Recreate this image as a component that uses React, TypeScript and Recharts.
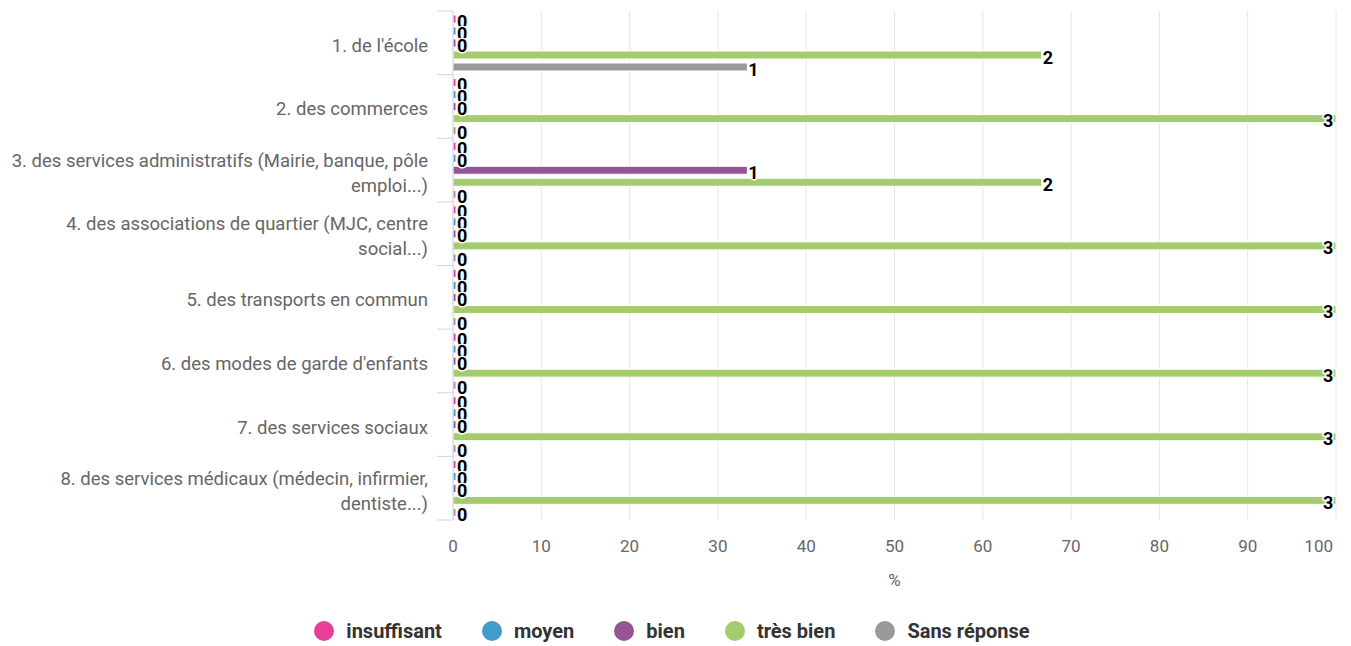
import {
  BarChart, Bar, XAxis, YAxis, CartesianGrid, LabelList, Legend,
} from 'recharts'

const categories = [
  "1. de l'école",
  '2. des commerces',
  '3. des services administratifs (Mairie, banque, pôle emploi...)',
  '4. des associations de quartier (MJC, centre social...)',
  '5. des transports en commun',
  "6. des modes de garde d'enfants",
  '7. des services sociaux',
  '8. des services médicaux (médecin, infirmier, dentiste...)',
]

// answer counts per category (3 respondents)
const insuffisant = [0, 0, 0, 0, 0, 0, 0, 0]
const moyen = [0, 0, 0, 0, 0, 0, 0, 0]
const bien = [0, 0, 1, 0, 0, 0, 0, 0]
const tresBien = [2, 3, 2, 3, 3, 3, 3, 3]
const sansReponse = [1, 0, 0, 0, 0, 0, 0, 0]
const respondents = 3

const xTicks = [0, 10, 20, 30, 40, 50, 60, 70, 80, 90, 100]

const series = [
  { key: 'insuffisant', name: 'insuffisant', color: '#e83e97', counts: insuffisant },
  { key: 'moyen', name: 'moyen', color: '#409cc9', counts: moyen },
  { key: 'bien', name: 'bien', color: '#945596', counts: bien },
  { key: 'tresBien', name: 'très bien', color: '#a4cc6f', counts: tresBien },
  { key: 'sansReponse', name: 'Sans réponse', color: '#999999', counts: sansReponse },
]

const data = categories.map((name, i) => {
  const row: any = { name }
  series.forEach((s) => {
    row[s.key] = (s.counts[i] / respondents) * 100
    row[s.key + '_n'] = s.counts[i]
  })
  return row
})

const W = 1351
const H = 646
const MARGIN = { top: 11, right: 15, bottom: 0, left: 0 }
const PLOT_RIGHT = W - MARGIN.right
const PLOT_H = 509
const BAND = PLOT_H / categories.length
const FONT = 'Roboto, sans-serif'
const Y_FONT_SIZE = 18.5

// word wrap for the long category names
let ctx: CanvasRenderingContext2D | null = null
function wrapLabel(label: string, maxWidth: number): string[] {
  if (!ctx) ctx = document.createElement('canvas').getContext('2d')
  const measure = (s: string) => {
    if (!ctx) return s.length * Y_FONT_SIZE * 0.5
    ctx.font = `${Y_FONT_SIZE}px Roboto`
    return ctx.measureText(s).width
  }
  const words = label.split(' ')
  const lines: string[] = []
  let cur = ''
  words.forEach((w) => {
    const next = cur ? cur + ' ' + w : w
    if (cur && measure(next) > maxWidth) {
      lines.push(cur)
      cur = w
    } else {
      cur = next
    }
  })
  if (cur) lines.push(cur)
  return lines
}

const YTick = (props: any) => {
  const { x, y, payload } = props
  const idx = categories.indexOf(payload.value)
  const half = BAND / 2
  const lines = wrapLabel(String(payload.value), 428)
  const lh = 25
  const first = y + 3 - ((lines.length - 1) * lh) / 2
  return (
    <g>
      <line x1={x - 16} x2={x} y1={y - half} y2={y - half} stroke="#ccd6eb" />
      {idx === categories.length - 1 && (
        <line x1={x - 16} x2={x} y1={y + half} y2={y + half} stroke="#ccd6eb" />
      )}
      <text
        x={x - 25}
        y={first}
        textAnchor="end"
        dominantBaseline="central"
        fill="#666666"
        style={{ fontSize: Y_FONT_SIZE, fontFamily: FONT }}
      >
        {lines.map((l, i) => (
          <tspan key={i} x={x - 25} y={first + i * lh}>
            {l}
          </tspan>
        ))}
      </text>
    </g>
  )
}

const XTick = (props: any) => {
  const { x, y, payload } = props
  const last = payload.value === 100
  return (
    <text
      x={last ? x - 3 : x}
      y={y + 32}
      textAnchor={last ? 'end' : 'middle'}
      fill="#666666"
      style={{ fontSize: 17, fontFamily: FONT }}
    >
      {payload.value}
    </text>
  )
}

const renderLabel = (props: any) => {
  const { x, y, width, height, value } = props
  const end = Number(x) + Number(width)
  const tx = Math.min(end + 1, PLOT_RIGHT - 13)
  return (
    <text
      x={tx}
      y={Number(y) + Number(height) / 2 + 2}
      dominantBaseline="central"
      fill="#000000"
      stroke="#ffffff"
      strokeWidth={3}
      strokeLinejoin="round"
      paintOrder="stroke"
      style={{ fontSize: 18, fontWeight: 'bold', fontFamily: FONT }}
    >
      {value}
    </text>
  )
}

const renderLegend = () => (
  <div
    style={{
      height: 30,
      display: 'flex',
      justifyContent: 'center',
      alignItems: 'center',
      paddingLeft: 8,
      fontFamily: FONT,
      fontSize: 20,
      fontWeight: 'bold',
      color: '#333333',
    }}
  >
    {series.map((s) => (
      <div key={s.key} style={{ display: 'flex', alignItems: 'center', margin: '0 20px' }}>
        <span
          style={{
            width: 20,
            height: 20,
            borderRadius: '50%',
            backgroundColor: s.color,
            marginRight: 12,
            display: 'inline-block',
          }}
        />
        <span>{s.name}</span>
      </div>
    ))}
  </div>
)

export default function App() {
  return (
    <div style={{ position: 'absolute', left: 0, top: 0, background: '#fff' }}>
      <BarChart
        width={W}
        height={H}
        data={data}
        layout="vertical"
        margin={MARGIN}
        barGap={4}
      >
        <CartesianGrid horizontal={false} stroke="#e6e6e6" />
        <XAxis
          type="number"
          domain={[0, 100]}
          ticks={xTicks}
          height={96}
          tick={<XTick />}
          tickSize={0}
          tickMargin={0}
          axisLine={false}
          tickLine={false}
          interval={0}
          label={{
            content: (p: any) => {
              const vb = p.viewBox || {}
              return (
                <text
                  x={vb.x + vb.width / 2}
                  y={586}
                  textAnchor="middle"
                  fill="#666666"
                  style={{ fontSize: 17, fontFamily: FONT }}
                >
                  %
                </text>
              )
            },
          }}
        />
        <YAxis
          type="category"
          dataKey="name"
          width={453}
          tick={<YTick />}
          tickSize={0}
          tickMargin={0}
          tickLine={false}
          axisLine={{ stroke: '#ccd6eb' }}
          interval={0}
        />
        <Legend verticalAlign="bottom" content={renderLegend} />
        {series.map((s) => (
          <Bar
            key={s.key}
            dataKey={s.key}
            name={s.name}
            fill={s.color}
            barSize={8}
            minPointSize={3}
            stroke="#ffffff"
            strokeWidth={1}
            isAnimationActive={false}
          >
            <LabelList dataKey={s.key + '_n'} content={renderLabel} />
          </Bar>
        ))}
      </BarChart>
    </div>
  )
}
